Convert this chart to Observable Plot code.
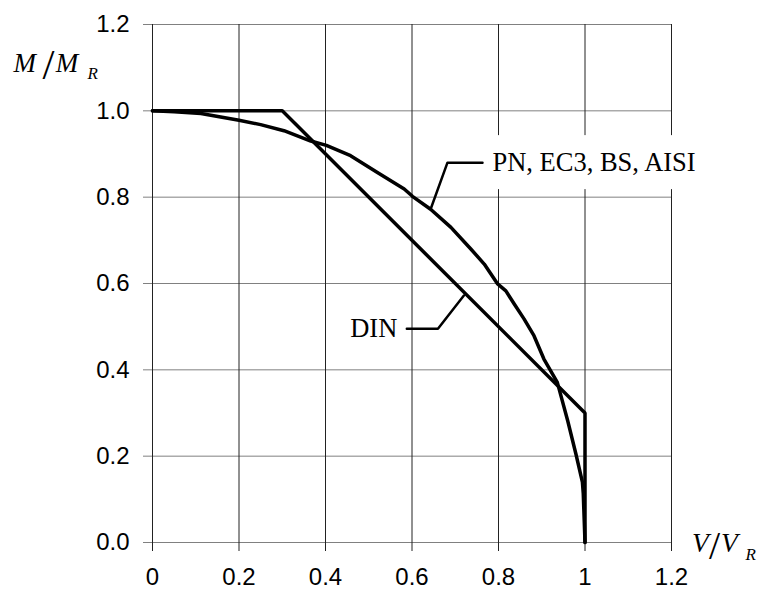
<!DOCTYPE html>
<html><head><meta charset="utf-8">
<script src="https://cdn.jsdelivr.net/npm/d3@7"></script>
<script src="https://cdn.jsdelivr.net/npm/@observablehq/plot@0.6"></script>
<style>body{margin:0;background:#fff} svg{display:block}</style>
</head><body><div id="chart"></div>
<script>
// PN, EC3, BS, AISI interaction curve (V/VR, M/MR)
const pnV = [0, 0.05, 0.112, 0.2, 0.25, 0.304, 0.366, 0.402, 0.458, 0.52, 0.582, 0.601, 0.643, 0.69, 0.736, 0.767, 0.798, 0.817, 0.836, 0.859, 0.882, 0.905, 0.936, 0.96, 0.979, 0.994, 0.996, 1.0];
const pnM = [1, 0.998, 0.994, 0.978, 0.968, 0.954, 0.93, 0.92, 0.896, 0.857, 0.819, 0.802, 0.772, 0.73, 0.68, 0.645, 0.599, 0.583, 0.553, 0.518, 0.479, 0.425, 0.371, 0.282, 0.205, 0.14, 0.113, 0];
// DIN curve
const dinV = [0, 0.3, 1, 1];
const dinM = [1, 1, 0.3, 0];
// ticks
const xTicks = [0, 0.2, 0.4, 0.6, 0.8, 1, 1.2];
const xTickLabels = ["0", "0.2", "0.4", "0.6", "0.8", "1", "1.2"];
const yTicks = [0, 0.2, 0.4, 0.6, 0.8, 1.0, 1.2];
const yTickLabels = ["0.0", "0.2", "0.4", "0.6", "0.8", "1.0", "1.2"];
// curve labels and leader lines
const pnLabel = "PN, EC3, BS, AISI";
const pnLabelV = 0.786, pnLabelM = 0.88;
const pnLeaderV = [0.643, 0.682, 0.763];
const pnLeaderM = [0.772, 0.88, 0.88];
const dinLabel = "DIN";
const dinLabelV = 0.566, dinLabelM = 0.495;
const dinLeaderV = [0.72, 0.66, 0.588];
const dinLeaderM = [0.572, 0.495, 0.495];
// axis titles: parts of "M/M_R" and "V/V_R"
const yTitleParts = ["M", "/", "M", "R"];
const xTitleParts = ["V", "/", "V", "R"];

const pn = pnV.map((v, i) => ({v, m: pnM[i]}));
const din = dinV.map((v, i) => ({v, m: dinM[i]}));
const pnLeader = pnLeaderV.map((v, i) => ({v, m: pnLeaderM[i]}));
const dinLeader = dinLeaderV.map((v, i) => ({v, m: dinLeaderM[i]}));

const serif = "'Liberation Serif', 'Times New Roman', serif";
const sans = "'Liberation Sans', Arial, sans-serif";

const plot = Plot.plot({
  width: 761, height: 590,
  marginLeft: 152, marginRight: 90, marginTop: 24, marginBottom: 48,
  x: {domain: [0, 1.2]},
  y: {domain: [0, 1.2]},
  style: {fontFamily: sans, fontSize: "24px", background: "white", color: "black", overflow: "visible"},
  marks: [
    Plot.gridY(yTicks, {stroke: "#808080", strokeOpacity: 1, strokeWidth: 1}),
    Plot.gridX(xTicks, {stroke: "#222", strokeOpacity: 1, strokeWidth: 1}),
    Plot.axisY(yTicks, {tickSize: 9, tickPadding: 14, stroke: "#808080", fill: "black", fontSize: 24,
      tickFormat: d => yTickLabels[yTicks.indexOf(d)], label: null}),
    Plot.axisX(xTicks, {tickSize: 9, tickPadding: 16, stroke: "#222", fill: "black", fontSize: 24,
      tickFormat: d => xTickLabels[xTicks.indexOf(d)], label: null}),
    Plot.line(pnLeader, {x: "v", y: "m", stroke: "black", strokeWidth: 2.5}),
    Plot.line(dinLeader, {x: "v", y: "m", stroke: "black", strokeWidth: 2.5}),
    Plot.text([pnLabel], {x: () => pnLabelV, y: () => pnLabelM, text: d => d, textAnchor: "start",
      fontFamily: serif, fontSize: 26.5, fill: "black", className: "lbl"}),
    Plot.text([dinLabel], {x: () => dinLabelV, y: () => dinLabelM, text: d => d, textAnchor: "end",
      fontFamily: serif, fontSize: 26.5, fill: "black", className: "lbl"}),
    Plot.line(din, {x: "v", y: "m", stroke: "black", strokeWidth: 3.5, strokeLinejoin: "miter"}),
    Plot.line(pn, {x: "v", y: "m", stroke: "black", strokeWidth: 3.5, strokeLinejoin: "round"})
  ]
});

document.getElementById("chart").appendChild(plot);
const svg = d3.select(plot);

// white boxes behind the curve labels
svg.selectAll("g.lbl text").each(function() {
  const b = this.getBBox();
  const padX = 6, padY = 12;
  const r = d3.select(this.parentNode).insert("rect", () => this)
    .attr("x", b.x - padX).attr("y", b.y - padY)
    .attr("width", b.width + 2 * padX).attr("height", b.height + 2 * padY)
    .attr("fill", "white");
  const t = this.getAttribute("transform");
  if (t) r.attr("transform", t);
});

// axis titles: one text element each, built from tspans (tall upright slash, italic letters, subscript)
function title(parts, layout) {
  const t = svg.append("text")
    .attr("font-family", serif)
    .attr("text-anchor", "start")
    .attr("fill", "black");
  parts.forEach((txt, i) => {
    const p = layout[i];
    t.append("tspan")
      .attr("x", p.x).attr("y", p.y)
      .attr("font-size", p.size)
      .attr("font-style", p.italic ? "italic" : "normal")
      .text(txt);
  });
}
title(yTitleParts, [
  {x: 13.5, y: 71.7, size: 27, italic: true},
  {x: 42.5, y: 78.5, size: 43},
  {x: 55.8, y: 71.7, size: 27, italic: true},
  {x: 87.6, y: 79.3, size: 17, italic: true}
]);
title(xTitleParts, [
  {x: 692, y: 552, size: 27.5, italic: true},
  {x: 709, y: 559.4, size: 40},
  {x: 721, y: 552, size: 27.5, italic: true},
  {x: 745.5, y: 560, size: 17, italic: true}
]);
</script>
</body></html>
